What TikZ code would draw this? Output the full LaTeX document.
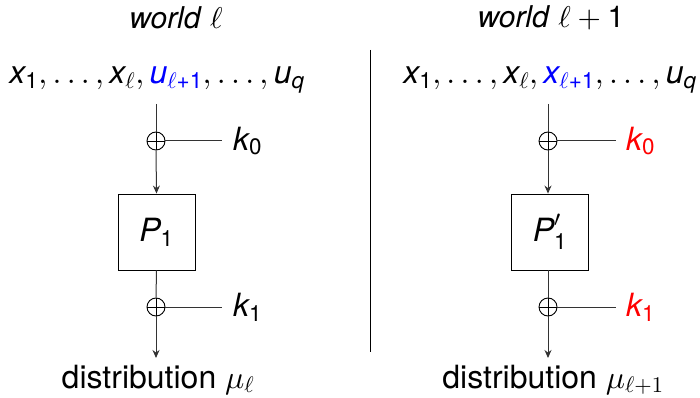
\documentclass[tikz,border=0pt]{standalone}
\usepackage{amsmath}
\DeclareFontShape{OML}{cmm}{m}{it}{<->cmmi10}{}
\DeclareFontShape{OMS}{cmsy}{m}{n}{<->cmsy10}{}
\DeclareFontShape{OT1}{cmr}{m}{n}{<->cmr10}{}
\usepackage{fontspec}
\setmainfont{TeX Gyre Heros}
\usetikzlibrary{arrows.meta}
\newcommand\mv[1]{\textit{#1}}
\newcommand\one{\text{1}}
\begin{document}
\begin{tikzpicture}[x=1pt,y=-1pt,
  every node/.style={inner sep=0pt,font=\fontsize{32}{38}\selectfont},
  title/.style={font=\fontsize{30}{36}\selectfont},
  wire/.style={line width=1pt,draw=black!80},
  arr/.style={wire,-{Stealth[length=8pt,width=7pt]}},
  xorc/.style={circle,draw,line width=0.9pt,minimum size=18pt,inner sep=0pt},
  pbox/.style={draw,line width=0.9pt,minimum width=77pt,minimum height=76pt}]
\useasboundingbox (0,0) rectangle (700,398);
% left world
\node[title] (tL) at (176,18) {\textit{world} $\ell$};
\node[anchor=base] (inL) at (157,84) {$\mv{x}_{\one},\ldots,\mv{x}_{\ell},{\color{blue}\mv{u}_{\ell\text{+1}}},\ldots,\mv{u}_{\mv{q}}$};
\node[xorc] (xa) at (156,141) {};
\draw[line width=0.9pt] (xa.north) -- (xa.south) (xa.west) -- (xa.east);
\node[pbox] (P) at (156.5,232) {$\mv{P}_{\one}$};
\node[xorc] (xb) at (156,307) {};
\draw[line width=0.9pt] (xb.north) -- (xb.south) (xb.west) -- (xb.east);
\node[anchor=west] (k0) at (233,141) {$\mv{k}_{\text{0}}$};
\node[anchor=west] (k1) at (233,307) {$\mv{k}_{\one}$};
\coordinate (kl0) at (222,141);
\coordinate (kl1) at (222,307);
\node[anchor=base] (dL) at (158,388) {distribution $\mu_\ell$};
\coordinate (topL) at (156,104);
\coordinate (endL) at (156,358);
\draw[wire] (topL) -- (xa.north);
\draw[arr] (xa.south) -- (P.north);
\draw[wire] (P.south) -- (xb.north);
\draw[arr] (xb.south) -- (endL);
\draw[wire] (xa.east) -- (kl0);
\draw[wire] (xb.east) -- (kl1);
% separator
\coordinate (s1) at (370,50);
\coordinate (s2) at (370,352);
\draw[line width=0.8pt] (s1) -- (s2);
% right world
\node[title] (tR) at (551,18) {\textit{world} $\ell+\one$};
\node[anchor=base] (inR) at (550,84) {$\mv{x}_{\one},\ldots,\mv{x}_{\ell},{\color{blue}\mv{x}_{\ell\text{+1}}},\ldots,\mv{u}_{\mv{q}}$};
\node[xorc] (ya) at (548,141) {};
\draw[line width=0.9pt] (ya.north) -- (ya.south) (ya.west) -- (ya.east);
\node[pbox] (Q) at (550,232) {$\mv{P}'_{\one}$};
\node[xorc] (yb) at (548,307) {};
\draw[line width=0.9pt] (yb.north) -- (yb.south) (yb.west) -- (yb.east);
\node[anchor=west,text=red] (r0) at (626,141) {$\mv{k}_{\text{0}}$};
\node[anchor=west,text=red] (r1) at (626,307) {$\mv{k}_{\one}$};
\coordinate (rl0) at (616,141);
\coordinate (rl1) at (616,307);
\node[anchor=base] (dR) at (553,388) {distribution $\mu_{\ell+1}$};
\coordinate (topR) at (548,104);
\coordinate (endR) at (548,358);
\draw[wire] (topR) -- (ya.north);
\draw[arr] (ya.south) -- (ya.south|-Q.north);
\draw[wire] (yb.north|-Q.south) -- (yb.north);
\draw[arr] (yb.south) -- (endR);
\draw[wire] (ya.east) -- (rl0);
\draw[wire] (yb.east) -- (rl1);
\end{tikzpicture}
\end{document}
